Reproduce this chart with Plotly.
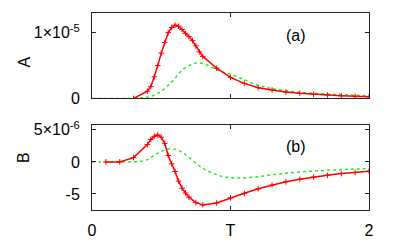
import plotly.graph_objects as go

# ---- data (top panel A, units of 1e-5) ----
a_red_x = [0.3, 0.4, 0.425, 0.45, 0.475, 0.5, 0.525, 0.55, 0.575, 0.6, 0.625, 0.65, 0.675,
           0.7, 0.725, 0.75, 0.775, 0.8, 0.9, 1.0, 1.1, 1.2, 1.3, 1.4, 1.5, 1.6, 1.7, 1.8, 1.9, 2.0]
a_red_y = [0.0, 0.11, 0.18, 0.33, 0.50, 0.69, 0.85, 1.0, 1.08, 1.115, 1.10, 1.05, 0.99,
           0.94, 0.88, 0.80, 0.71, 0.64, 0.46, 0.32, 0.23, 0.164, 0.13, 0.098, 0.078, 0.063, 0.053, 0.042, 0.033, 0.026]
a_green_x = [0.0, 0.1, 0.2, 0.3, 0.35, 0.4, 0.45, 0.5, 0.55, 0.6, 0.65, 0.7, 0.75, 0.8, 0.85, 0.9,
             0.95, 1.0, 1.1, 1.2, 1.3, 1.4, 1.5, 1.6, 1.7, 1.8, 1.9, 2.0]
a_green_y = [0.0, 0.0, 0.0, 0.002, 0.008, 0.02, 0.05, 0.11, 0.2, 0.31, 0.43, 0.50, 0.54, 0.53, 0.49, 0.44,
             0.40, 0.37, 0.285, 0.2, 0.15, 0.118, 0.095, 0.08, 0.068, 0.058, 0.049, 0.042]

# ---- data (bottom panel B, units of 1e-6) ----
b_red_x = [0.1, 0.2, 0.3, 0.4, 0.425, 0.45, 0.475, 0.5, 0.525, 0.55, 0.575, 0.6, 0.625, 0.65, 0.675,
           0.7, 0.75, 0.8, 0.9, 1.0, 1.1, 1.2, 1.3, 1.4, 1.5, 1.6, 1.7, 1.8, 1.9, 2.0]
b_red_y = [0.0, 0.0, 0.67, 2.7, 3.5, 4.0, 4.2, 3.85, 2.9, 1.0, -0.3, -1.5, -3.0, -4.1, -4.85,
           -5.5, -6.35, -6.7, -6.4, -5.6, -4.9, -4.2, -3.6, -3.1, -2.7, -2.35, -2.08, -1.82, -1.65, -1.45]
b_green_x = [0.0, 0.1, 0.2, 0.3, 0.35, 0.4, 0.45, 0.5, 0.55, 0.6, 0.65, 0.7, 0.75, 0.8, 0.85, 0.9,
             0.95, 1.0, 1.05, 1.1, 1.2, 1.3, 1.4, 1.5, 1.6, 1.7, 1.8, 1.9, 2.0]
b_green_y = [0.0, 0.0, 0.0, 0.02, 0.1, 0.35, 1.05, 1.62, 2.0, 1.95, 1.5, 0.7, -0.2, -1.0, -1.55, -2.0,
             -2.3, -2.45, -2.52, -2.5, -2.3, -2.02, -1.78, -1.58, -1.42, -1.3, -1.2, -1.12, -1.05]

x_tick_vals = [0, 1, 2]
x_tick_text = ["0", "T", "2"]
a_tick_vals = [0, 1e-5]
a_tick_text = ["0", "1×10<sup>-5</sup>"]
b_tick_vals = [-5e-6, 0, 5e-6]
b_tick_text = ["-5", "0", "5×10<sup>-6</sup>"]

RED = "#ff0000"
GREEN = "#22ee22"
FONT = "Liberation Sans, Arial, sans-serif"
FS = 16

fig = go.Figure()

def red_trace(x, y, xa, ya):
    return go.Scatter(x=x, y=y, xaxis=xa, yaxis=ya, mode="lines+markers",
                      line=dict(color=RED, width=1.5),
                      marker=dict(symbol="cross-thin", size=4, line=dict(color=RED, width=1)),
                      showlegend=False, hoverinfo="skip")

def green_trace(x, y, xa, ya):
    return go.Scatter(x=x, y=y, xaxis=xa, yaxis=ya, mode="lines",
                      line=dict(color=GREEN, width=1.5, dash="dot", shape="spline"),
                      showlegend=False, hoverinfo="skip")

fig.add_trace(green_trace(a_green_x, [v * 1e-5 for v in a_green_y], "x", "y"))
fig.add_trace(red_trace(a_red_x, [v * 1e-5 for v in a_red_y], "x", "y"))
fig.add_trace(green_trace(b_green_x, [v * 1e-6 for v in b_green_y], "x2", "y2"))
fig.add_trace(red_trace(b_red_x, [v * 1e-6 for v in b_red_y], "x2", "y2"))

axis_common = dict(showline=True, linecolor="#222222", linewidth=1, mirror="ticks",
                   ticks="inside", ticklen=4, tickcolor="#222222", showgrid=False,
                   zeroline=False, automargin=False,
                   tickfont=dict(family=FONT, size=FS, color="black"))

fig.update_layout(
    width=399, height=244,
    margin=dict(l=92, r=30, t=13, b=34),
    paper_bgcolor="white", plot_bgcolor="white",
    font=dict(family=FONT, size=FS, color="black"),
    xaxis=dict(domain=[0, 1], range=[0, 2], anchor="y", tickvals=x_tick_vals,
               showticklabels=False, **axis_common),
    yaxis=dict(domain=[0.566, 1], range=[0, 1.3e-5], anchor="x", tickvals=a_tick_vals,
               ticktext=a_tick_text, ticklabelstandoff=8, **axis_common),
    xaxis2=dict(domain=[0, 1], range=[0, 2], anchor="y2", tickvals=x_tick_vals,
                ticktext=x_tick_text, ticklabelstandoff=6, **axis_common),
    yaxis2=dict(domain=[0, 0.433], range=[-7.5e-6, 5.8e-6], anchor="x2", tickvals=b_tick_vals,
                ticktext=b_tick_text, ticklabelstandoff=8, **axis_common),
    annotations=[
        dict(text="(a)", x=1.47, y=0.96e-5, xref="x", yref="y", showarrow=False,
             font=dict(family=FONT, size=FS)),
        dict(text="(b)", x=1.47, y=2.34e-6, xref="x2", yref="y2", showarrow=False,
             font=dict(family=FONT, size=FS)),
        dict(text="A", x=-0.283, y=0.787, xref="paper", yref="paper", textangle=-90,
             showarrow=False, font=dict(family=FONT, size=FS)),
        dict(text="B", x=-0.283, y=0.227, xref="paper", yref="paper", textangle=-90,
             showarrow=False, font=dict(family=FONT, size=FS)),
    ],
)

fig.write_html("out.html", config={"displayModeBar": False},
               post_script="document.body.style.margin='0px';")
